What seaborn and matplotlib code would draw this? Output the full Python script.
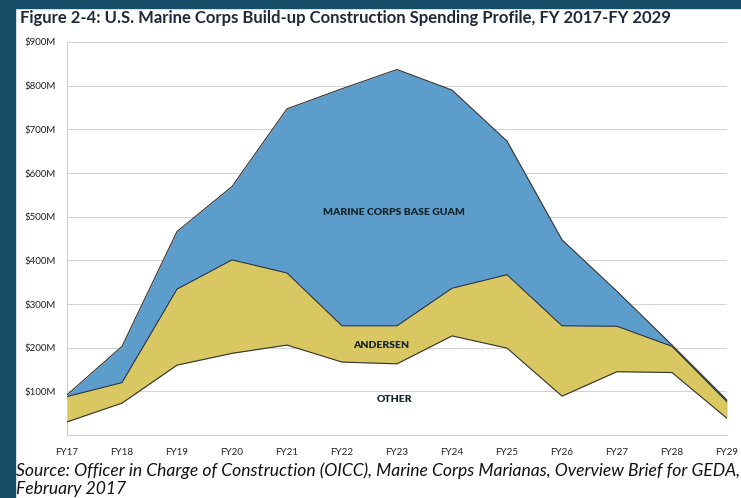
import matplotlib
matplotlib.use("Agg")
import matplotlib.pyplot as plt
import seaborn as sns
import numpy as np
import pandas as pd

years = ["FY17", "FY18", "FY19", "FY20", "FY21", "FY22", "FY23",
         "FY24", "FY25", "FY26", "FY27", "FY28", "FY29"]
other = [30, 73, 160, 187, 206, 167, 163, 227, 199, 89, 145, 143, 38]
andersen = [58, 47, 174, 214, 165, 83, 87, 109, 168, 161, 104, 60, 38]
mcbg = [4, 83, 132, 168, 376, 543, 587, 454, 306, 197, 80, 3, 4]
y_ticks = [100, 200, 300, 400, 500, 600, 700, 800, 900]
y_labels = ["$100M", "$200M", "$300M", "$400M", "$500M", "$600M", "$700M", "$800M", "$900M"]

title = "Figure 2-4: U.S. Marine Corps Build-up Construction Spending Profile, FY 2017-FY 2029"
source1 = "Source: Officer in Charge of Construction (OICC), Marine Corps Marianas, Overview Brief for GEDA,"
source2 = "February 2017"

sns.set_style("white")
plt.rcParams["font.family"] = ["Lato", "DejaVu Sans"]

TEAL = "#174e68"
BLUE = "#5d9dcc"
YELLOW = "#d9c762"

fig = plt.figure(figsize=(7.41, 4.98), dpi=100)
fig.patch.set_facecolor("white")
# teal frame strips
fig.patches.append(plt.Rectangle((0, 0), 15 / 741, 1, transform=fig.transFigure,
                                 color=TEAL, zorder=0))
fig.patches.append(plt.Rectangle((0, 1 - 8 / 498), 1, 8 / 498, transform=fig.transFigure,
                                 color=TEAL, zorder=0))

ax = fig.add_axes([67 / 741, 1 - 435 / 498, (727 - 67) / 741, (435 - 42) / 498])

x = np.arange(len(years))
df = pd.DataFrame({"x": x, "other": other, "andersen": andersen, "mcbg": mcbg})
df["and_top"] = df["other"] + df["andersen"]
df["total"] = df["and_top"] + df["mcbg"]

ax.fill_between(df["x"], df["and_top"], df["total"], color=BLUE, lw=0, zorder=2)
ax.fill_between(df["x"], df["other"], df["and_top"], color=YELLOW, lw=0, zorder=2)
for col in ["other", "and_top", "total"]:
    sns.lineplot(data=df, x="x", y=col, ax=ax, color="#333333", lw=0.8, zorder=3)
ax.vlines(x[-1], df["other"].iloc[-1], df["total"].iloc[-1], color="#333333", lw=0.8, zorder=3)

ax.set_xlim(0, len(years) - 1)
ax.set_ylim(0, 900)
ax.set_yticks(y_ticks)
ax.set_yticklabels(y_labels)
ax.set_xticks(x)
ax.set_xticklabels(years)
ax.set_xlabel("")
ax.set_ylabel("")
ax.tick_params(axis="y", length=0, pad=8, labelsize=7, labelcolor="#222222")
ax.tick_params(axis="x", length=3, width=0.5, color="#bbbbbb", pad=6, labelsize=7,
               labelcolor="#222222")
ax.yaxis.grid(True, color="#d2d2d2", lw=0.7, zorder=1)
ax.set_axisbelow(True)
for s in ["top", "right"]:
    ax.spines[s].set_visible(False)
ax.spines["left"].set_color("#cccccc")
ax.spines["bottom"].set_color("#cccccc")
ax.spines["left"].set_linewidth(0.7)
ax.spines["bottom"].set_linewidth(0.7)

ax.text(5.95, 510, "MARINE CORPS BASE GUAM", ha="center", va="center", fontsize=7.5,
        fontweight="heavy", color="#16262c", zorder=4)
ax.text(5.72, 205, "ANDERSEN", ha="center", va="center", fontsize=7.5,
        fontweight="heavy", color="#16262c", zorder=4)
ax.text(5.96, 82, "OTHER", ha="center", va="center", fontsize=7.5,
        fontweight="heavy", color="#16262c", zorder=4)

fig.text(20 / 741, 1 - 18 / 498, title, ha="left", va="center", fontsize=12,
         fontweight="bold", color="#1e2a3a")
fig.text(16 / 741, 1 - 471 / 498, source1, ha="left", va="center", fontsize=12.6,
         style="italic", color="#111111")
fig.text(16 / 741, 1 - 489 / 498, source2, ha="left", va="center", fontsize=12.6,
         style="italic", color="#111111")

fig.savefig("out.png", dpi=100)
